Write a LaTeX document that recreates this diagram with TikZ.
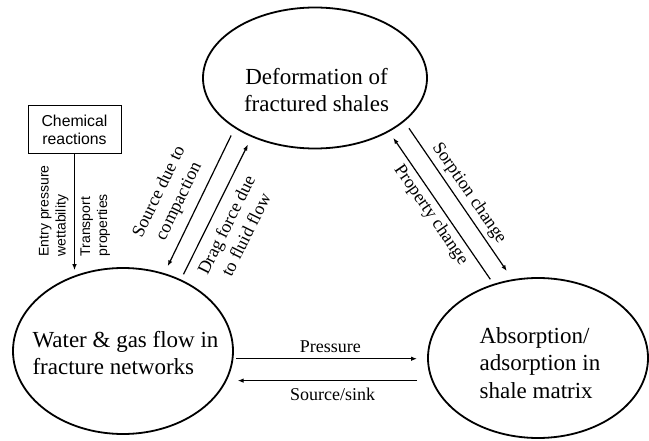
\documentclass[tikz,border=0pt]{standalone}
\usepackage{fontspec}
\setmainfont{Liberation Serif}
\setsansfont{Liberation Sans}
\usepackage{tikz}
\usetikzlibrary{shapes, arrows.meta, positioning, calc}

\begin{document}
\begin{tikzpicture}[x=1pt, y=1pt, >={Latex[length=6pt,width=4.5pt]}, line width=1.2pt]
    % Styles
    \tikzstyle{proc} = [ellipse, draw, line width=1.8pt, inner sep=0pt]
    \tikzstyle{proctext} = [font=\fontsize{23}{27.5}\selectfont, inner sep=0pt]
    \tikzstyle{chem} = [rectangle, draw, line width=1pt, font=\sffamily\fontsize{15.8}{18.5}\selectfont, align=center, minimum width=93pt, minimum height=48pt, inner sep=0pt]
    \tikzstyle{lbl} = [font=\fontsize{18}{22}\selectfont, align=center, inner sep=2pt]
    \tikzstyle{vlbl} = [font=\sffamily\fontsize{14}{17}\selectfont, align=left, rotate=90, inner sep=1pt, outer sep=5pt]

    \useasboundingbox (0,0) rectangle (649,440);

    % Nodes
    \node [proc, minimum width=224pt, minimum height=141pt] (def) at (315,362) {};
    \node [proctext, align=center] (deftext) at ([xshift=1.5pt, yshift=-12pt]def.center) {Deformation of\\fractured shales};
    \node [proc, minimum width=220pt, minimum height=166pt] (wat) at (123,89) {};
    \node [proctext, align=left] (wattext) at ([xshift=2.5pt, yshift=-2pt]wat.center) {Water \& gas flow in\\fracture networks};
    \node [proc, minimum width=220pt, minimum height=160pt] (sha) at (538,82) {};
    \node [proctext, align=left] (shatext) at ([xshift=2pt, yshift=-5pt]sha.center) {Absorption/\\adsorption in\\shale matrix};
    \node [chem] (react) at (74.5,310) {Chemical\\reactions};

    % Connections
    % Deformation <-> water & gas flow
    \draw[->, shorten <=8.1pt, shorten >=7.6pt] (def.212) -- (wat.62)
        node[lbl, pos=0.56, above=7pt, sloped] {Source due to\\compaction};
    \draw[->, shorten <=5.8pt, shorten >=8.3pt] (wat.51) -- (def.223)
        node[lbl, pos=0.435, below=7pt, sloped] {Drag force due\\to fluid flow};

    % Deformation <-> shale matrix
    \draw[->, shorten <=8.1pt, shorten >=9.9pt] (def.334) -- (sha.108)
        node[lbl, midway, above=2pt, sloped] {Sorption change};
    \draw[->, shorten <=5.6pt, shorten >=7.3pt] (sha.121) -- (def.324)
        node[lbl, midway, below=2pt, sloped] {Property change};

    % Water & gas flow <-> shale matrix
    \draw[->, shorten <=2.5pt, shorten >=10pt] (wat.-4) -- (wat.-4 -| sha.west)
        node[lbl, midway, above=3pt] {Pressure};
    \draw[->, shorten <=14.4pt, shorten >=3.7pt] (sha.192) -- (sha.192 -| wat.east)
        node[lbl, midway, below=5pt] {Source/sink};

    % Chemical reactions
    \draw[->, shorten >=5.5pt] (react.south) -- (react.south |- wat.123)
        node[vlbl, pos=0.89, anchor=south west] {Entry pressure\\wettability}
        node[vlbl, pos=0.89, anchor=north west] {Transport\\properties};

\end{tikzpicture}
\end{document}
